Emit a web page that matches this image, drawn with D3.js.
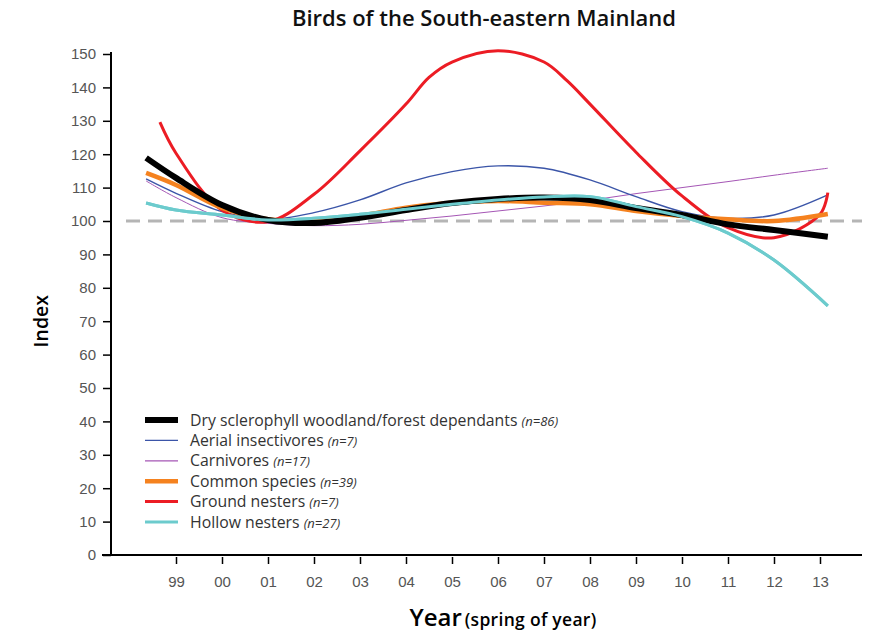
<!DOCTYPE html>
<html>
<head>
<meta charset="utf-8">
<script src="https://cdn.jsdelivr.net/npm/d3@7"></script>
<style>
  body { margin: 0; background: #fff; }
  svg { display: block; }
</style>
</head>
<body>
<div id="chart"></div>
<script>
// x positions are fractional years (spring of year)
const years = [1998.35, 1999, 2000, 2001, 2002, 2003, 2004, 2005, 2006, 2007, 2008, 2009, 2010, 2011, 2012, 2013.17];
const redYears = [1998.65, 1999, 2000, 2001, 2002, 2003, 2004, 2004.5, 2005, 2006, 2007, 2007.5, 2008, 2009, 2010, 2011, 2012, 2013, 2013.17];

const dryScler  = [118.9, 112.9, 104.8, 100.3, 99.4, 101, 103.3, 105.4, 106.6, 107, 106.3, 103.9, 101.8, 99, 97.3, 95.3];
const aerial    = [112.6, 108.3, 102.8, 100.5, 102.5, 106.3, 111.4, 114.8, 116.5, 115.8, 112.3, 107.3, 102.8, 100.8, 101.8, 107.8];
const carnivore = [112, 107, 101, 99.3, 98.6, 99, 100.2, 101.5, 103, 104.5, 106.2, 108.2, 110, 111.8, 113.7, 115.8];
const common    = [114.4, 110.8, 103.9, 100.5, 100, 101.5, 104, 105.5, 106, 105.5, 105, 103, 101.5, 100.5, 100, 102.1];
const ground    = [129.6, 120.3, 103.2, 99.8, 108, 121, 135, 143, 147.6, 151, 147.6, 142, 135, 120.6, 107.5, 98, 95, 102, 108.5];
const hollow    = [105.4, 103.3, 101.8, 100.3, 100.8, 102, 103.5, 105, 106.3, 107.2, 107.3, 104.3, 101.3, 96.4, 88.3, 74.6];

const seriesNames = ["Dry sclerophyll woodland/forest dependants", "Aerial insectivores", "Carnivores", "Common species", "Ground nesters", "Hollow nesters"];
const seriesN = ["(n=86)", "(n=7)", "(n=17)", "(n=39)", "(n=7)", "(n=27)"];
const colors = ["#000000", "#3b55a8", "#a556b5", "#f5821f", "#ec1c24", "#6ccbcd"];
const widths = [6, 1.4, 1, 4.5, 3, 3];

const yTicks = d3.range(0, 151, 10);
const xTickYears = d3.range(1999, 2014);

const width = 884;
const height = 632;

const svg = d3.select("#chart")
  .append("svg")
  .attr("width", width)
  .attr("height", height);

const x = d3.scaleLinear()
  .domain([1999, 2013])
  .range([176, 820]);

const y = d3.scaleLinear()
  .domain([0, 150])
  .range([555, 54]);

// title
svg.append("text")
  .attr("x", 484)
  .attr("y", 26)
  .attr("text-anchor", "middle")
  .attr("font-family", "'Open Sans', sans-serif")
  .attr("font-weight", 600)
  .attr("font-size", "22px")
  .attr("fill", "#111")
  .text("Birds of the South-eastern Mainland");

// y axis
const yAxis = svg.append("g")
  .attr("transform", "translate(111,0)")
  .call(d3.axisLeft(y).tickValues(yTicks).tickSize(8).tickPadding(7));
yAxis.select(".domain").attr("stroke", "#000").attr("stroke-width", 2).attr("d", `M0,${y(150) - 2}V${y(0)}`);
yAxis.selectAll(".tick line").attr("stroke", "#000").attr("stroke-width", 1.5);
yAxis.selectAll(".tick text")
  .attr("font-family", "'Liberation Sans', Arial, sans-serif")
  .attr("font-size", "15px")
  .attr("fill", "#555");

// x axis line
svg.append("line")
  .attr("x1", 102).attr("x2", 862)
  .attr("y1", y(0)).attr("y2", y(0))
  .attr("stroke", "#000").attr("stroke-width", 2);

const xAxis = svg.append("g")
  .attr("transform", `translate(0,${y(0) + 2})`)
  .call(d3.axisBottom(x).tickValues(xTickYears).tickSize(7).tickPadding(12)
    .tickFormat(d => String(d).slice(2)));
xAxis.select(".domain").remove();
xAxis.selectAll(".tick line").attr("stroke", "#000").attr("stroke-width", 1.5);
xAxis.selectAll(".tick text")
  .attr("font-family", "'Liberation Sans', Arial, sans-serif")
  .attr("font-size", "15px")
  .attr("fill", "#555");

// axis titles
svg.append("text")
  .attr("transform", `translate(48,${y(70)}) rotate(-90)`)
  .attr("text-anchor", "middle")
  .attr("font-family", "'Open Sans', sans-serif")
  .attr("font-weight", 600)
  .attr("font-size", "19.5px")
  .attr("fill", "#000")
  .text("Index");

const xt = svg.append("text")
  .attr("x", 503)
  .attr("y", 626)
  .attr("text-anchor", "middle")
  .attr("font-family", "'Open Sans', sans-serif")
  .attr("font-weight", 600)
  .attr("fill", "#000");
xt.append("tspan").attr("font-size", "24px").text("Year");
xt.append("tspan").attr("font-size", "17.5px").attr("dx", 3).attr("letter-spacing", "0.3px").text("(spring of year)");

// reference line at 100
svg.append("line")
  .attr("x1", 126).attr("x2", 862)
  .attr("y1", y(100)).attr("y2", y(100))
  .attr("stroke", "#b5b5b5")
  .attr("stroke-width", 3)
  .attr("stroke-dasharray", "14,8");

const seriesData = [dryScler, aerial, carnivore, common, ground, hollow];
const line = d3.line().curve(d3.curveCatmullRom.alpha(0.5));

// draw order: thin lines under, black on top
const order = [2, 1, 4, 5, 3, 0];
order.forEach(i => {
  const xs = i === 4 ? redYears : years;
  const pts = seriesData[i].map((v, j) => [x(xs[j]), y(v)]);
  svg.append("path")
    .attr("d", line(pts))
    .attr("fill", "none")
    .attr("stroke", colors[i])
    .attr("stroke-width", widths[i]);
});

// cyan drawn again so it sits over the black
{
  const pts = hollow.map((v, j) => [x(years[j]), y(v)]);
  svg.append("path")
    .attr("d", line(pts))
    .attr("fill", "none")
    .attr("stroke", colors[5])
    .attr("stroke-width", widths[5]);
}

// legend
const legend = svg.append("g").attr("transform", "translate(145,420)");
seriesNames.forEach((name, i) => {
  const g = legend.append("g").attr("transform", `translate(0,${i * 20.4})`);
  g.append("line")
    .attr("x1", 0).attr("x2", 33)
    .attr("stroke", colors[i])
    .attr("stroke-width", Math.max(widths[i], 1.2));
  const t = g.append("text")
    .attr("x", 45)
    .attr("y", 5.5)
    .attr("font-family", "'Open Sans', sans-serif")
    .attr("font-size", "15.8px")
    .attr("fill", "#333");
  t.append("tspan").text(name + " ");
  t.append("tspan").attr("font-style", "italic").attr("font-size", "13px").text(seriesN[i]);
});
</script>
</body>
</html>
